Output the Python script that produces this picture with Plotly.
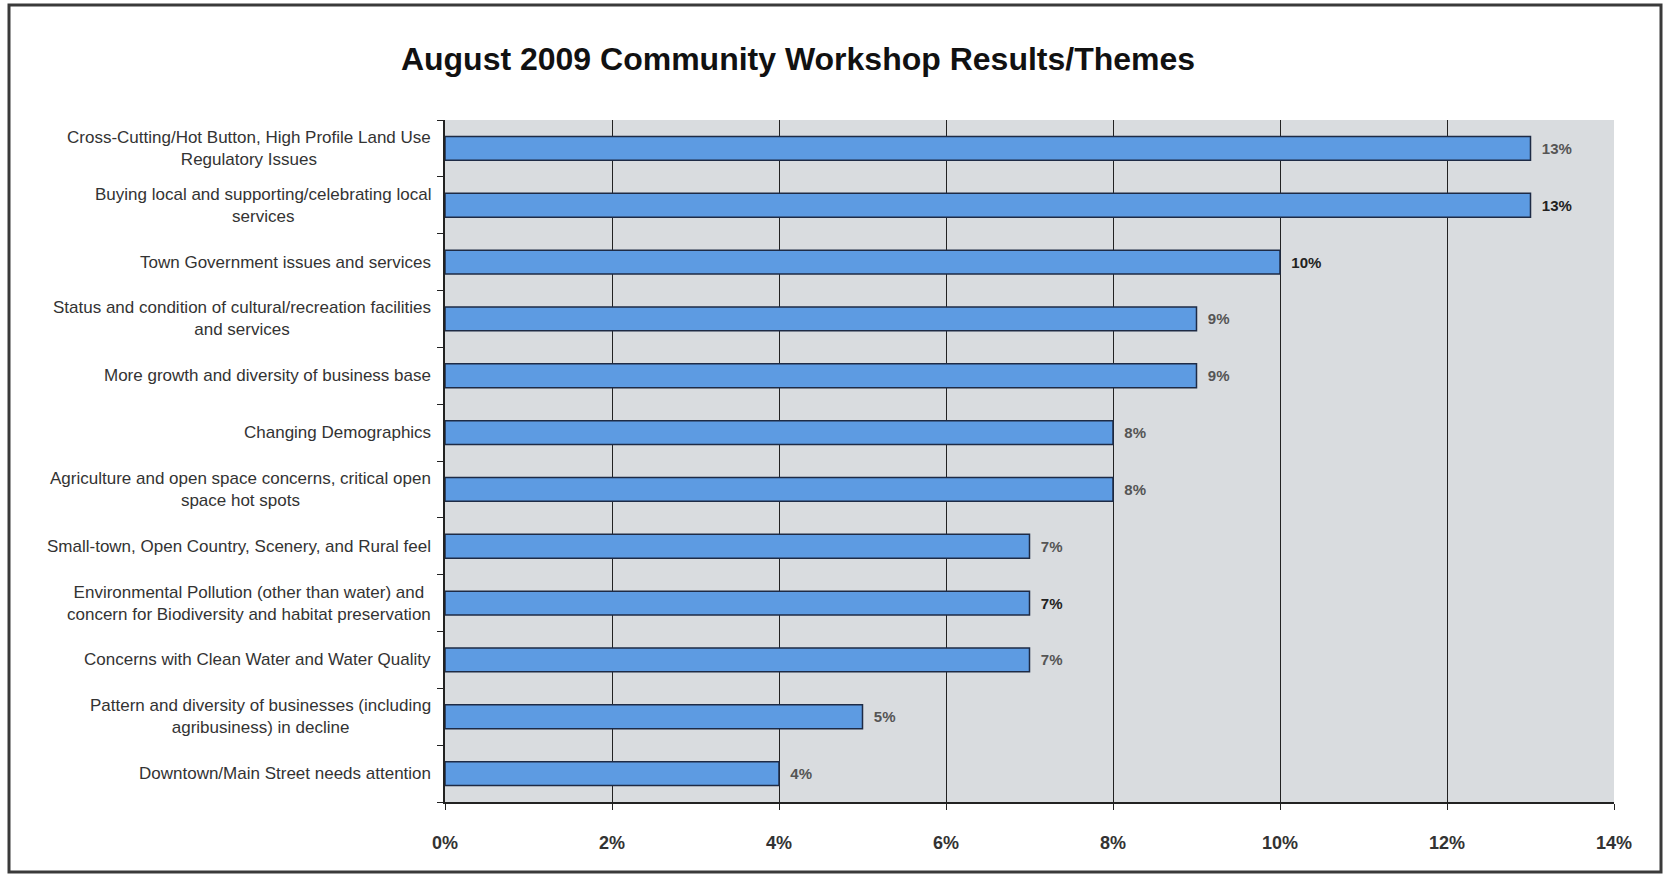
import plotly.graph_objects as go

title = "August 2009 Community Workshop Results/Themes"
categories = [
    "Cross-Cutting/Hot Button, High Profile Land Use<br>Regulatory Issues",
    "Buying local and supporting/celebrating local<br>services",
    "Town Government issues and services",
    "Status and condition of cultural/recreation facilities<br>and services",
    "More growth and diversity of business base",
    "Changing Demographics",
    "Agriculture and open space concerns, critical open<br>space hot spots",
    "Small-town, Open Country, Scenery, and Rural feel",
    "Environmental Pollution (other than water) and<br>concern for Biodiversity and habitat preservation",
    "Concerns with Clean Water and Water Quality",
    "Pattern and diversity of businesses (including<br>agribusiness) in decline",
    "Downtown/Main Street needs attention",
]
values = [13, 13, 10, 9, 9, 8, 8, 7, 7, 7, 5, 4]
x_ticks = [0, 2, 4, 6, 8, 10, 12, 14]
x_tick_labels = ["0%", "2%", "4%", "6%", "8%", "10%", "12%", "14%"]
label_colors = ["#555555", "#222222", "#222222", "#555555", "#555555", "#555555",
                "#555555", "#555555", "#222222", "#555555", "#555555", "#555555"]

FONT = "Liberation Sans, Arial, sans-serif"
W, H = 1673, 876
L, R, T, B = 445, 59, 120, 74
pw, ph = W - L - R, H - T - B

fig = go.Figure()
fig.add_trace(go.Bar(
    x=values, y=list(range(len(categories))), orientation="h",
    marker=dict(color="#5D9BE2", line=dict(color="#1E2B45", width=1.5)),
    width=0.42,
    text=[f"\u00a0\u00a0<b>{v}%</b>" for v in values], textposition="outside",
    textfont=dict(family=FONT, size=15, color=label_colors),
    cliponaxis=False, hoverinfo="skip",
))

annotations = []
for i, c in enumerate(categories):
    annotations.append(dict(
        x=0, xref="paper", y=i, yref="y", xanchor="right", yanchor="middle",
        xshift=-12, text=c, align="center", showarrow=False,
        font=dict(family=FONT, size=17, color="#333333"),
    ))

def px_x(p):
    return (p - L) / pw

def px_y(p):
    return (H - B - p) / ph

shapes = [dict(type="rect", xref="paper", yref="paper",
               x0=px_x(9), x1=px_x(1661), y0=px_y(872), y1=px_y(5),
               line=dict(color="#3a3a3a", width=3), layer="above")]

fig.update_layout(
    width=W, height=H,
    margin=dict(l=L, r=R, t=T, b=B, autoexpand=False),
    paper_bgcolor="white", plot_bgcolor="#D9DCDF",
    title=dict(text=f"<b>{title}</b>", x=798 / W, xanchor="center",
               y=1 - 59 / H, yanchor="middle",
               font=dict(family=FONT, size=32, color="#111111")),
    showlegend=False, bargap=0.58,
    annotations=annotations, shapes=shapes,
    xaxis=dict(range=[0, 14], tickvals=x_ticks, ticktext=[f"<b>{t}</b>" for t in x_tick_labels],
               showgrid=True, gridcolor="#222222", gridwidth=1.3,
               showline=True, linecolor="#222222", linewidth=1.5,
               ticks="outside", ticklen=6, tickcolor="#222222",
               ticklabelstandoff=18, zeroline=False,
               tickfont=dict(family=FONT, size=18, color="#333333")),
    yaxis=dict(range=[len(categories) - 0.5, -0.5], showgrid=False,
               tickvals=[i + 0.5 for i in range(-1, len(categories))],
               showticklabels=False,
               showline=True, linecolor="#222222", linewidth=1.5,
               ticks="outside", ticklen=6, tickcolor="#222222", zeroline=False),
)

fig.write_html("out.html", config={"displayModeBar": False},
               post_script="document.body.style.margin='0';document.body.style.overflow='hidden';")
